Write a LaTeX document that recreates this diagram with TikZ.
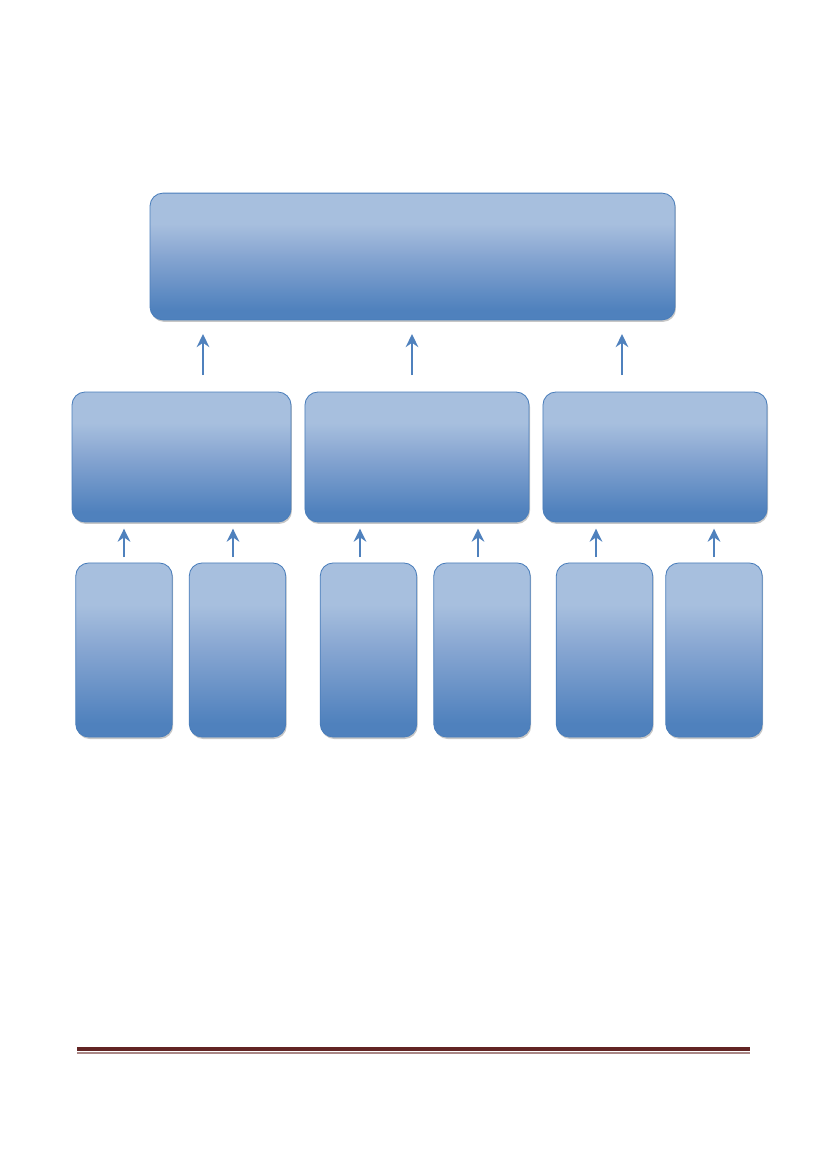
\documentclass[tikz,border=0pt]{standalone}
\usetikzlibrary{arrows.meta,shadows}
\definecolor{boxlight}{HTML}{A7BFDE}
\definecolor{boxmid}{HTML}{86A5D1}
\definecolor{boxdark}{HTML}{4F81BD}
\definecolor{boxline}{HTML}{4A7EBB}
\definecolor{rulered}{HTML}{622423}
\pgfdeclareverticalshading{boxfill}{100bp}{color(0bp)=(boxdark); color(29bp)=(boxdark); color(50bp)=(boxmid); color(63bp)=(boxlight); color(100bp)=(boxlight)}
\tikzset{
  block/.style={rectangle, rounded corners=3.3mm, draw=boxline, line width=0.6pt,
    shading=boxfill, inner sep=0pt, outer sep=0pt,
    drop shadow={shadow xshift=0.25mm, shadow yshift=-0.5mm, fill=black, opacity=0.22}},
  topblock/.style={block, minimum width=133.3mm, minimum height=32.2mm},
  midblock/.style={block, minimum width=56.9mm, minimum height=33mm},
  lowblock/.style={block, minimum width=24.5mm, minimum height=44.2mm},
  uparrow/.style={draw=boxdark, line width=2pt, -{Stealth[length=3.3mm,width=3.2mm,inset=1.1mm]}}
}
\begin{document}
\begin{tikzpicture}[x=0.2539mm, y=-0.2539mm]
\fill[white] (0,0) rectangle (827,1169);
\useasboundingbox (0,0) rectangle (827,1169);

\node[topblock] (top) at (412.5,256.5) {};

\node[midblock, minimum width=55.6mm] (m1) at (181.5,457) {};
\node[midblock] (m2) at (417,457) {};
\node[midblock] (m3) at (655,457) {};

\node[lowblock] (b1) at (124,650) {};
\node[lowblock] (b2) at (237.5,650) {};
\node[lowblock] (b3) at (368.5,650) {};
\node[lowblock] (b4) at (482,650) {};
\node[lowblock] (b5) at (604.5,650) {};
\node[lowblock] (b6) at (714,650) {};

% arrows up to the top block
\coordinate (t1) at (203,375);
\coordinate (t2) at (412,375);
\coordinate (t3) at (622,375);
\foreach \t in {t1,t2,t3}
  \draw[uparrow, shorten >=3.6mm] (\t) -- (\t |- top.south);

% arrows up to the middle blocks
\coordinate (p1) at (124,557);
\coordinate (p2) at (233,557);
\coordinate (p3) at (360,557);
\coordinate (p4) at (478,557);
\coordinate (p5) at (596,557);
\coordinate (p6) at (714,557);
\draw[uparrow, shorten >=1.7mm] (p1) -- (p1 |- m1.south);
\draw[uparrow, shorten >=1.7mm] (p2) -- (p2 |- m1.south);
\draw[uparrow, shorten >=1.7mm] (p3) -- (p3 |- m2.south);
\draw[uparrow, shorten >=1.7mm] (p4) -- (p4 |- m2.south);
\draw[uparrow, shorten >=1.7mm] (p5) -- (p5 |- m3.south);
\draw[uparrow, shorten >=1.7mm] (p6) -- (p6 |- m3.south);

% footer rule
\coordinate (r1) at (77,1049);
\coordinate (r2) at (750,1049);
\draw[rulered, line width=1.2mm] (r1) -- (r2);
\draw[rulered!55, line width=0.3mm] ([yshift=-1mm]r1) -- ([yshift=-1mm]r2);
\end{tikzpicture}
\end{document}
